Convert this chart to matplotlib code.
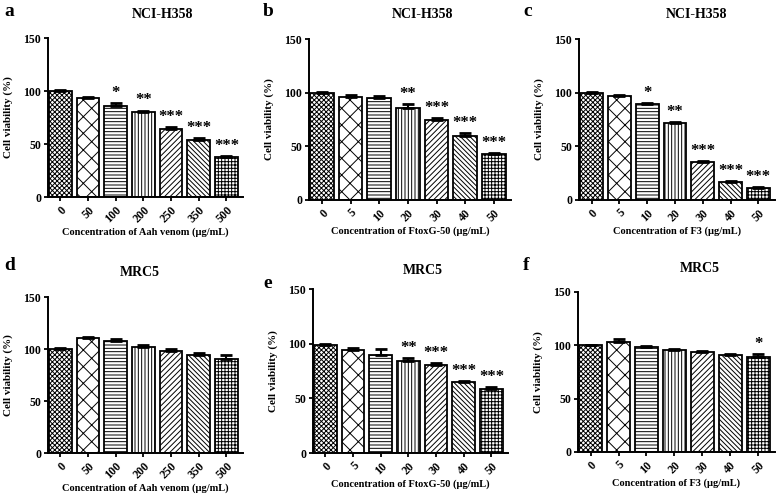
import matplotlib.pyplot as plt
import numpy as np

plt.rcParams['font.family'] = ['Liberation Serif', 'DejaVu Serif']
plt.rcParams['font.weight'] = 'bold'
plt.rcParams['hatch.linewidth'] = 0.7

# data
conc_aah = ['0', '50', '100', '200', '250', '350', '500']
conc_ftox = ['0', '5', '10', '20', '30', '40', '50']
conc_f3 = ['0', '5', '10', '20', '30', '40', '50']

h358_aah = [100, 93, 86, 80, 64.5, 53.5, 37.5]
h358_aah_err = [0.5, 1.5, 2.5, 1.5, 1.5, 2, 1.5]
h358_aah_sig = ['', '', '*', '**', '***', '***', '***']

h358_ftox = [100, 96, 95, 86, 74.5, 60, 42.5]
h358_ftox_err = [0.5, 1.5, 1.5, 3, 2, 2, 1.5]
h358_ftox_sig = ['', '', '', '**', '***', '***', '***']

h358_f3 = [100, 97, 89, 71.5, 35.5, 17, 11]
h358_f3_err = [0.5, 1, 1.5, 1, 1, 1, 1]
h358_f3_sig = ['', '', '*', '**', '***', '***', '***']

mrc5_aah = [100, 110.5, 107.5, 102, 98.5, 94, 90.5]
mrc5_aah_err = [0.5, 1, 2, 1.5, 1.5, 2, 4]
mrc5_aah_sig = ['', '', '', '', '', '', '']

mrc5_ftox = [98.5, 94, 90, 84.5, 80.5, 65, 58.5]
mrc5_ftox_err = [1, 2, 5, 2, 1.5, 1, 2]
mrc5_ftox_sig = ['', '', '', '**', '***', '***', '***']

mrc5_f3 = [100, 103.5, 98, 95.5, 93.5, 91, 89]
mrc5_f3_err = [0.5, 2.5, 1.5, 1, 1, 0.5, 3]
mrc5_f3_sig = ['', '', '', '', '', '', '*']

hatches = ['xxxxxxx', 'XX', '-----', '|||||', '//////', '\\\\\\\\\\\\\\', '+++++']

# letter, title, labels, values, errors, stars, xlabel,
# axes box (px: left, right, top, bottom), letter pos (px), title pos (px)
panels = [
    ('a', 'NCI-H358', conc_aah, h358_aah, h358_aah_err, h358_aah_sig,
     'Concentration of Aah venom (µg/mL)', [48, 243, 38, 197], (4, 12), (163, 15)),
    ('b', 'NCI-H358', conc_ftox, h358_ftox, h358_ftox_err, h358_ftox_sig,
     'Concentration of FtoxG-50 (µg/mL)', [309, 511, 39, 200], (263, 12), (423, 15)),
    ('c', 'NCI-H358', conc_f3, h358_f3, h358_f3_err, h358_f3_sig,
     'Concentration of F3 (µg/mL)', [579, 775, 39, 200], (523, 12), (697, 15)),
    ('d', 'MRC5', conc_aah, mrc5_aah, mrc5_aah_err, mrc5_aah_sig,
     'Concentration of Aah venom (µg/mL)', [48, 243, 297, 453], (4, 266), (140, 272)),
    ('e', 'MRC5', conc_ftox, mrc5_ftox, mrc5_ftox_err, mrc5_ftox_sig,
     'Concentration of FtoxG-50 (µg/mL)', [313, 508, 289, 453], (263, 283), (423, 270)),
    ('f', 'MRC5', conc_f3, mrc5_f3, mrc5_f3_err, mrc5_f3_sig,
     'Concentration of F3 (µg/mL)', [578, 775, 292, 452], (523, 266), (700, 269)),
]

W, H = 778, 499
fig = plt.figure(figsize=(W / 100, H / 100), dpi=100)

for letter, title, labels, vals, errs, sig, xlabel, box, lpos, tpos in panels:
    x0, x1, ytop, ybot = box
    ax = fig.add_axes([x0 / W, 1 - ybot / H, (x1 - x0) / W, (ybot - ytop) / H])
    x = np.arange(len(vals))
    for i in range(len(vals)):
        ax.bar(x[i], vals[i], width=0.82, color='white', edgecolor='black',
               linewidth=1.3, hatch=hatches[i], zorder=2)
    ax.errorbar(x, vals, yerr=[[0] * len(vals), errs], fmt='none',
                ecolor='black', elinewidth=1.5, capsize=4, capthick=2, zorder=3)
    for i in range(len(vals)):
        if sig[i]:
            ax.text(x[i], vals[i] + errs[i] + 2, sig[i], ha='center', va='bottom',
                    fontsize=12, fontweight='bold')
    ax.set_xlim(-0.45, len(vals) - 0.4)
    ax.set_ylim(0, 150)
    ax.set_yticks([0, 50, 100, 150])
    ax.set_xticks(x)
    ax.set_xticklabels(labels, rotation=45, ha='right', rotation_mode='anchor')
    ax.tick_params(labelsize=8.5, width=1.3, length=3, pad=2)
    for s in ['top', 'right']:
        ax.spines[s].set_visible(False)
    for s in ['left', 'bottom']:
        ax.spines[s].set_linewidth(1.4)
    ax.set_ylabel('Cell viability (%)', fontsize=8, fontweight='bold', labelpad=7)
    ax.set_xlabel(xlabel, fontsize=7.5, fontweight='bold', labelpad=2)
    fig.text(tpos[0] / W, 1 - tpos[1] / H, title, fontsize=10, fontweight='bold',
             ha='center', va='center')
    fig.text(lpos[0] / W, 1 - lpos[1] / H, letter, fontsize=14, fontweight='bold',
             ha='left', va='center')

fig.savefig('out.png', dpi=100)
